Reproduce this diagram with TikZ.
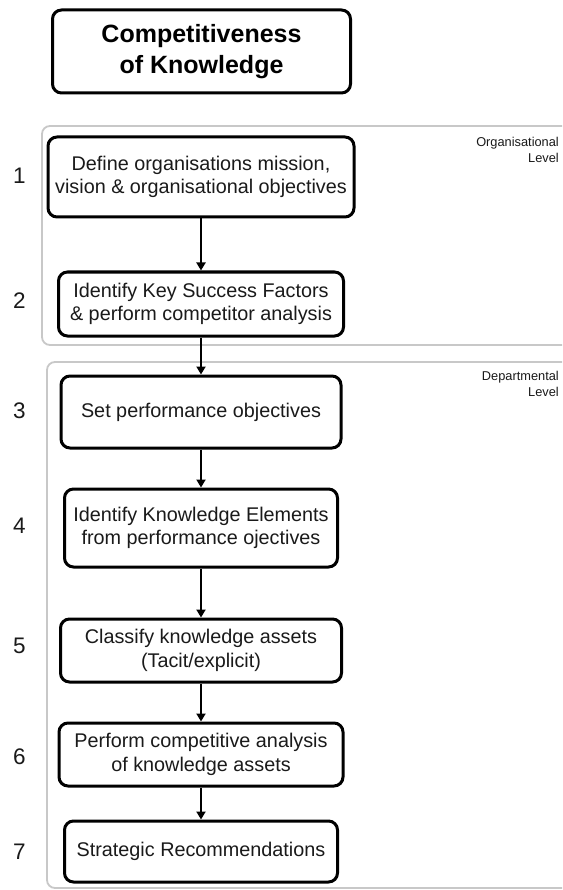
\documentclass[tikz,border=0pt]{standalone}
\usepackage{fontspec}
\setmainfont{Liberation Sans}
\usetikzlibrary{arrows.meta}
\definecolor{levelgray}{HTML}{C8C8C8}
\definecolor{inkcol}{HTML}{1A1A1A}
\begin{document}
\begin{tikzpicture}[x=1pt,y=-1pt,
  stepbox/.style={draw=black,line width=3pt,rounded corners=9pt,align=center,
    inner sep=0pt,text=inkcol,font=\fontsize{19.8}{23.5}\selectfont},
  titlebox/.style={stepbox,font=\fontsize{25}{31}\selectfont\bfseries,text=black},
  levelbox/.style={draw=levelgray,line width=1.8pt,rounded corners=8pt},
  levellabel/.style={align=right,inner sep=0pt,anchor=north east,text=inkcol,
    font=\fontsize{12.8}{16.5}\selectfont},
  numlabel/.style={inner sep=0pt,text=inkcol,font=\fontsize{22.5}{26}\selectfont},
  flow/.style={line width=2.7pt,-{Triangle[width=9pt,length=8pt]}}]
\useasboundingbox (0,0) rectangle (562,890);
\clip (0,0) rectangle (562,890);
\fill[white] (0,0) rectangle (562,890);

% level frames, open to the right
\draw[levelbox] (42,126) rectangle (600,345);
\draw[levelbox] (47,362) rectangle (600,888);
\node[levellabel] (orglvl) at (559,137) {Organisational\\Level};
\node[levellabel] (deplvl) at (559,371) {Departmental\\Level};

% title
\node[titlebox,minimum width=298pt,minimum height=83pt] (title) at (201.5,51.5)
  {Competitiveness\\of Knowledge};

% process steps
\node[stepbox,minimum width=306pt,minimum height=80pt] (s1) at (201,177)
  {Define organisations mission,\\vision \& organisational objectives};
\node[stepbox,minimum width=285pt,minimum height=64pt] (s2) at (201,304)
  {Identify Key Success Factors\\\& perform competitor analysis};
\node[stepbox,minimum width=280pt,minimum height=72pt] (s3) at (201,412)
  {Set performance objectives};
\node[stepbox,minimum width=273pt,minimum height=78pt] (s4) at (201,528)
  {Identify Knowledge Elements\\from performance ojectives};
\node[stepbox,minimum width=281pt,minimum height=63pt] (s5) at (201,650.5)
  {Classify knowledge assets\\(Tacit/explicit)};
\node[stepbox,minimum width=284pt,minimum height=63pt] (s6) at (201,754.5)
  {Perform competitive analysis\\of knowledge assets};
\node[stepbox,minimum width=273pt,minimum height=61pt] (s7) at (201,851.5)
  {Strategic Recommendations};

% step numbers
\node[numlabel] (n1) at (19.5,176) {1};
\node[numlabel] (n2) at (19.5,301) {2};
\node[numlabel] (n3) at (19.5,411) {3};
\node[numlabel] (n4) at (19.5,526) {4};
\node[numlabel] (n5) at (19.5,646) {5};
\node[numlabel] (n6) at (19.5,757) {6};
\node[numlabel] (n7) at (19.5,852) {7};

% connectors
\draw[flow] (s1.south) -- (s2.north);
\draw[flow] (s2.south) -- (s3.north);
\draw[flow] (s3.south) -- (s4.north);
\draw[flow] (s4.south) -- (s5.north);
\draw[flow] (s5.south) -- (s6.north);
\draw[flow] (s6.south) -- (s7.north);
\end{tikzpicture}
\end{document}
